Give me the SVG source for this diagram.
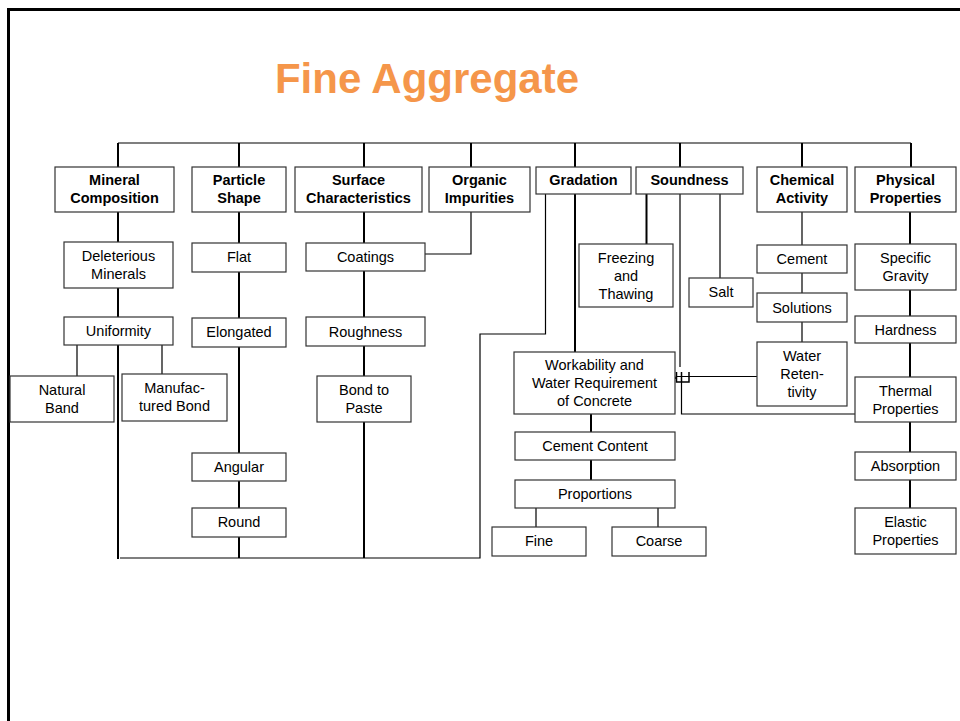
<svg xmlns="http://www.w3.org/2000/svg" width="960" height="721" viewBox="0 0 960 721">
<style>
.box{fill:#fff;stroke:#333;stroke-width:1.2}
.t{font-family:"Liberation Sans",Arial,sans-serif;font-size:14.5px;text-anchor:middle;fill:#000}
.b{font-weight:bold}
.k{stroke:#000;stroke-width:2;fill:none}
.n{stroke:#000;stroke-width:1.2;fill:none}
</style>
<rect width="960" height="721" fill="#fff"/>
<path d="M8.5,721 V9.5 H960" fill="none" stroke="#000" stroke-width="3"/>
<text x="427" y="93" font-family="Liberation Sans,Arial,sans-serif" font-size="42" font-weight="bold" fill="#F5964A" text-anchor="middle">Fine Aggregate</text>

<g id="connectors">
<path class="n" d="M118,143 H911" stroke-width="1.5"/>
<path class="k" d="M118,143 V167 M239,143 V167 M364,143 V167 M471,143 V167 M575,143 V167 M680,143 V167 M802,143 V167 M911,143 V167"/>
<path class="k" d="M118,212 V242 M118,288 V317 M118,345 V559"/>
<path class="n" d="M77,345 V376 M162,345 V374"/>
<path class="k" d="M239,212 V243 M239,272 V318 M239,347 V453 M239,481 V508 M239,537 V558"/>
<path class="k" d="M364,212 V243 M364,271 V317 M364,346 V376 M364,422 V558"/>
<path class="n" d="M471,212 V254 H425"/>
<path class="n" d="M120,558 H480 V334 H545.5 V194"/>
<path class="k" d="M575,194 V352 M591,414 V432 M591,460 V480"/>
<path class="n" d="M536,508 V527 M658,508 V527"/>
<path class="k" d="M646.5,194 V244"/>
<path class="n" d="M720,194 V278 M680,194 V367"/>
<path class="n" d="M757,376.5 H676.5 M681.5,382 V414 H855"/>
<path d="M673.5,379.5 L677,376 M676.5,372 V382 H689 V372 M681.5,372 V382" fill="none" stroke="#000" stroke-width="1.5"/>
<path class="n" d="M802,212 V245 M802,273 V293 M802,322 V342"/>
<path class="k" d="M910,212 V244 M910,290 V316 M910,343 V377 M910,422 V452 M910,480 V508"/>
</g>

<g id="mineral"><rect class="box" x="55" y="167" width="119" height="45"/><text class="t b" x="114.5" y="184.5">Mineral</text><text class="t b" x="114.5" y="202.5">Composition</text></g>
<g id="particle"><rect class="box" x="192" y="167" width="94" height="45"/><text class="t b" x="239" y="184.5">Particle</text><text class="t b" x="239" y="202.5">Shape</text></g>
<g id="surface"><rect class="box" x="295" y="167" width="127" height="45"/><text class="t b" x="358.5" y="184.5">Surface</text><text class="t b" x="358.5" y="202.5">Characteristics</text></g>
<g id="organic"><rect class="box" x="429" y="167" width="101" height="45"/><text class="t b" x="479.5" y="184.5">Organic</text><text class="t b" x="479.5" y="202.5">Impurities</text></g>
<g id="gradation"><rect class="box" x="536" y="167" width="95" height="27"/><text class="t b" x="583.5" y="184.5">Gradation</text></g>
<g id="soundness"><rect class="box" x="636" y="167" width="107" height="27"/><text class="t b" x="689.5" y="184.5">Soundness</text></g>
<g id="chemical"><rect class="box" x="757" y="167" width="90" height="45"/><text class="t b" x="802" y="184.5">Chemical</text><text class="t b" x="802" y="202.5">Activity</text></g>
<g id="physical"><rect class="box" x="855" y="167" width="101" height="45"/><text class="t b" x="905.5" y="184.5">Physical</text><text class="t b" x="905.5" y="202.5">Properties</text></g>

<g id="deleterious"><rect class="box" x="64" y="242" width="109" height="46"/><text class="t" x="118.5" y="261">Deleterious</text><text class="t" x="118.5" y="279">Minerals</text></g>
<g id="uniformity"><rect class="box" x="64" y="317" width="109" height="28"/><text class="t" x="118.5" y="336">Uniformity</text></g>
<g id="natural"><rect class="box" x="10" y="376" width="104" height="46"/><text class="t" x="62" y="394.5">Natural</text><text class="t" x="62" y="412.5">Band</text></g>
<g id="manufactured"><rect class="box" x="122" y="374" width="105" height="47"/><text class="t" x="174.5" y="393">Manufac-</text><text class="t" x="174.5" y="411">tured Bond</text></g>

<g id="flat"><rect class="box" x="192" y="243" width="94" height="29"/><text class="t" x="239" y="262">Flat</text></g>
<g id="elongated"><rect class="box" x="192" y="318" width="94" height="29"/><text class="t" x="239" y="337">Elongated</text></g>
<g id="angular"><rect class="box" x="192" y="453" width="94" height="28"/><text class="t" x="239" y="472">Angular</text></g>
<g id="round"><rect class="box" x="192" y="508" width="94" height="29"/><text class="t" x="239" y="527">Round</text></g>

<g id="coatings"><rect class="box" x="306" y="243" width="119" height="28"/><text class="t" x="365.5" y="262">Coatings</text></g>
<g id="roughness"><rect class="box" x="306" y="317" width="119" height="29"/><text class="t" x="365.5" y="336.5">Roughness</text></g>
<g id="bond"><rect class="box" x="317" y="376" width="94" height="46"/><text class="t" x="364" y="394.5">Bond to</text><text class="t" x="364" y="412.5">Paste</text></g>

<g id="workability"><rect class="box" x="514" y="352" width="161" height="62"/><text class="t" x="594.5" y="370">Workability and</text><text class="t" x="594.5" y="388">Water Requirement</text><text class="t" x="594.5" y="406">of Concrete</text></g>
<g id="cementcontent"><rect class="box" x="515" y="432" width="160" height="28"/><text class="t" x="595" y="451">Cement Content</text></g>
<g id="proportions"><rect class="box" x="515" y="480" width="160" height="28"/><text class="t" x="595" y="499">Proportions</text></g>
<g id="fine"><rect class="box" x="492" y="527" width="94" height="29"/><text class="t" x="539" y="546">Fine</text></g>
<g id="coarse"><rect class="box" x="612" y="527" width="94" height="29"/><text class="t" x="659" y="546">Coarse</text></g>

<g id="freezing"><rect class="box" x="579" y="244" width="94" height="63"/><text class="t" x="626" y="262.5">Freezing</text><text class="t" x="626" y="280.5">and</text><text class="t" x="626" y="298.5">Thawing</text></g>
<g id="salt"><rect class="box" x="689" y="278" width="64" height="29"/><text class="t" x="721" y="297">Salt</text></g>

<g id="cement"><rect class="box" x="757" y="245" width="90" height="28"/><text class="t" x="802" y="264">Cement</text></g>
<g id="solutions"><rect class="box" x="757" y="293" width="90" height="29"/><text class="t" x="802" y="312.5">Solutions</text></g>
<g id="water"><rect class="box" x="757" y="342" width="90" height="64"/><text class="t" x="802" y="361">Water</text><text class="t" x="802" y="379">Reten-</text><text class="t" x="802" y="397">tivity</text></g>

<g id="specific"><rect class="box" x="855" y="244" width="101" height="46"/><text class="t" x="905.5" y="263">Specific</text><text class="t" x="905.5" y="281">Gravity</text></g>
<g id="hardness"><rect class="box" x="855" y="316" width="101" height="27"/><text class="t" x="905.5" y="334.5">Hardness</text></g>
<g id="thermal"><rect class="box" x="855" y="377" width="101" height="45"/><text class="t" x="905.5" y="395.5">Thermal</text><text class="t" x="905.5" y="413.5">Properties</text></g>
<g id="absorption"><rect class="box" x="855" y="452" width="101" height="28"/><text class="t" x="905.5" y="471">Absorption</text></g>
<g id="elastic"><rect class="box" x="855" y="508" width="101" height="46"/><text class="t" x="905.5" y="527">Elastic</text><text class="t" x="905.5" y="545">Properties</text></g>
</svg>
